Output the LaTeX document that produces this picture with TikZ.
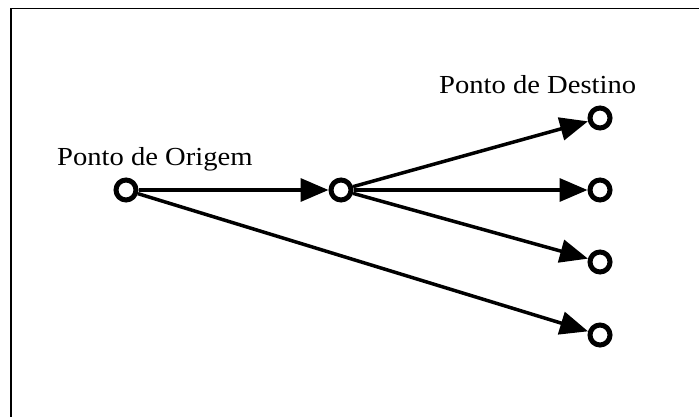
\documentclass[tikz,border=0pt]{standalone}
\usepackage{fontspec}
\newfontfamily\rotulofont{Liberation Serif}[FakeStretch=1.1]
\usepackage{tikz}
\usetikzlibrary{shapes,arrows.meta}
\tikzstyle{ponto} = [ellipse, draw, line width=5pt, fill=white,
minimum width=20pt, minimum height=20pt, inner sep=0pt]
\tikzstyle{seta} = [draw, line width=3.5pt, -{Triangle[length=28pt, width=23pt]}]
\tikzstyle{rotulo} = [anchor=base west, inner sep=0pt,
font=\rotulofont\fontsize{26}{30}\selectfont]
\tikzstyle{moldura} = [draw, line width=1.5pt]
\begin{document}
\begin{tikzpicture}[x=1pt, y=1pt, node distance = 72pt]
	\useasboundingbox (0,0) rectangle (699,-417);
	\path [moldura] (710,-8.5) -- (11,-8.5) -- (11,-430);
	
	
	\node [ponto] (origem) at (126,-190) {};
	\node [ponto, right of=origem, node distance=215pt] (meio) {};
	\node [ponto, right of=meio, node distance=259pt] (destino2) {};
	\node [ponto, above of=destino2] (destino1) {};
	\node [ponto, below of=destino2] (destino3) {};
	\node [ponto, below of=destino3, node distance=73pt] (destino4) {};
	
	
	\node [rotulo] (rotuloorigem) at (57,-165) {Ponto de Origem};
	\node [rotulo] (rotulodestino) at (439,-94) {Ponto de Destino};
	
	
	\path [seta] (origem)--(meio);
	\path [seta] (meio)--(destino1);
	\path [seta] (meio)--(destino2);
	\path [seta] (meio)--(destino3);
	\path [seta] (origem)--(destino4);
	\end{tikzpicture}
\end{document}
